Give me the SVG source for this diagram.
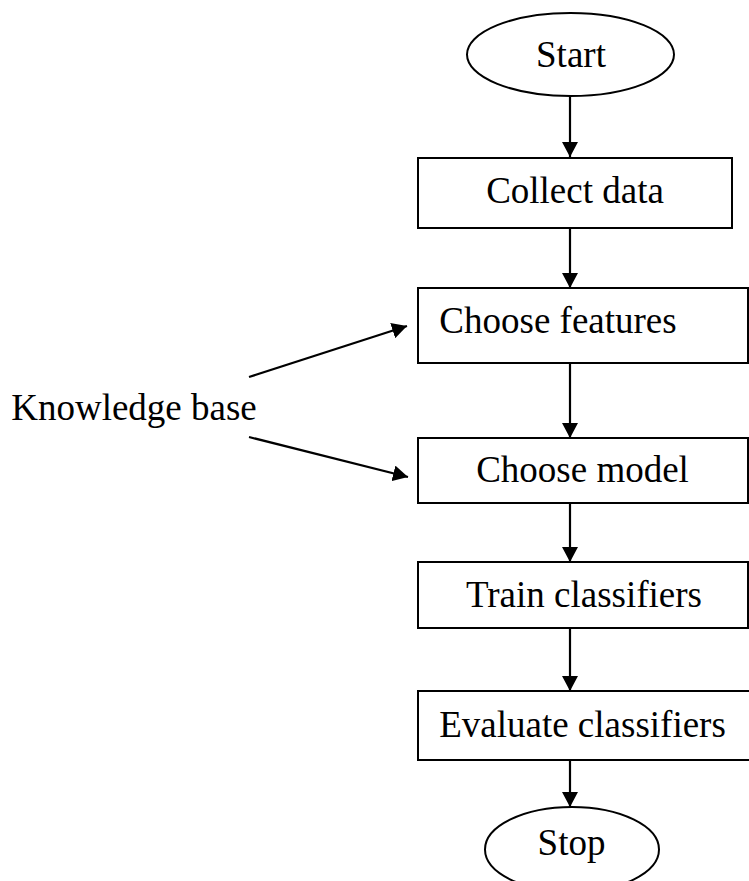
<svg xmlns="http://www.w3.org/2000/svg" width="749" height="881" viewBox="0 0 749 881">
  <style>
    .shape { fill: #ffffff; stroke: #000000; stroke-width: 2; }
    .label { font-family: 'Liberation Serif', 'DejaVu Serif', serif; font-size: 37px; fill: #000000; text-anchor: middle; }
    .link { stroke: #000000; stroke-width: 2.2; fill: none; marker-end: url(#head); }
  </style>
  <defs>
    <marker id="head" viewBox="0 0 15 16" refX="15" refY="8" markerWidth="15" markerHeight="16" markerUnits="userSpaceOnUse" orient="auto">
      <path d="M0,0 L15,8 L0,16 Z" fill="#000000"/>
    </marker>
  </defs>
  <rect width="749" height="881" fill="#ffffff"/>

  <g id="connectors">
    <line class="link" x1="570" y1="96" x2="570" y2="157"/>
    <line class="link" x1="570" y1="228" x2="570" y2="288"/>
    <line class="link" x1="570" y1="363" x2="570" y2="438"/>
    <line class="link" x1="570" y1="503" x2="570" y2="562"/>
    <line class="link" x1="570" y1="628" x2="570" y2="691"/>
    <line class="link" x1="570" y1="760" x2="570" y2="807"/>
    <line class="link" x1="249" y1="377" x2="407" y2="326"/>
    <line class="link" x1="249" y1="437" x2="408" y2="477"/>
  </g>

  <g id="start">
    <ellipse class="shape" cx="570.5" cy="54.5" rx="103.5" ry="41.5"/>
    <text class="label" x="571" y="67" font-family="Liberation Serif, serif">Start</text>
  </g>
  <g id="collect-data">
    <rect class="shape" x="418" y="158" width="314" height="70"/>
    <text class="label" x="575" y="203" font-family="Liberation Serif, serif">Collect data</text>
  </g>
  <g id="choose-features">
    <rect class="shape" x="418" y="288" width="330" height="75"/>
    <text class="label" x="558" y="333" font-family="Liberation Serif, serif">Choose features</text>
  </g>
  <g id="knowledge-base">
    <text class="label" x="134" y="420" font-family="Liberation Serif, serif">Knowledge base</text>
  </g>
  <g id="choose-model">
    <rect class="shape" x="418" y="438" width="330" height="65"/>
    <text class="label" x="582.5" y="482" font-family="Liberation Serif, serif">Choose model</text>
  </g>
  <g id="train-classifiers">
    <rect class="shape" x="418" y="562" width="330" height="66"/>
    <text class="label" x="584" y="607" font-family="Liberation Serif, serif">Train classifiers</text>
  </g>
  <g id="evaluate-classifiers">
    <rect class="shape" x="418" y="691" width="340" height="69"/>
    <text class="label" x="582.5" y="737" font-family="Liberation Serif, serif">Evaluate classifiers</text>
  </g>
  <g id="stop">
    <ellipse class="shape" cx="572" cy="849.5" rx="87" ry="42.5"/>
    <text class="label" x="571.5" y="855" font-family="Liberation Serif, serif">Stop</text>
  </g>
</svg>
